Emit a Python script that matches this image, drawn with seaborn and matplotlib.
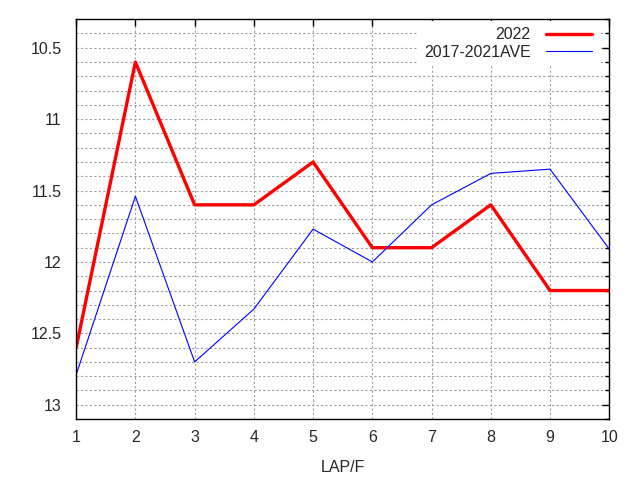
import numpy as np
import pandas as pd
import seaborn as sns
import matplotlib.pyplot as plt
from matplotlib.ticker import MultipleLocator

laps = [1, 2, 3, 4, 5, 6, 7, 8, 9, 10]
times_2022 = [12.6, 10.6, 11.6, 11.6, 11.3, 11.9, 11.9, 11.6, 12.2, 12.2]
times_ave = [12.79, 11.54, 12.70, 12.33, 11.77, 12.0, 11.6, 11.38, 11.35, 11.91]

sns.set_style('white')
plt.rcParams['font.family'] = ['Liberation Sans', 'DejaVu Sans']
plt.rcParams['font.size'] = 11.5

df = pd.DataFrame({'lap': laps, '2022': times_2022, '2017-2021AVE': times_ave})

fig = plt.figure(figsize=(6.4, 4.8), dpi=100)
ax = fig.add_axes([0.119, 0.127, 0.833, 0.833])

sns.lineplot(data=df, x='lap', y='2022', ax=ax, color='#ff0000', linewidth=2.4, label='2022')
sns.lineplot(data=df, x='lap', y='2017-2021AVE', ax=ax, color='#0000ff', linewidth=0.8, label='2017-2021AVE')

ax.set_xlim(1, 10)
ax.set_ylim(13.1, 10.3)
ax.set_xticks(laps)
ax.yaxis.set_major_locator(MultipleLocator(0.5))
ax.yaxis.set_minor_locator(MultipleLocator(0.1))
ax.set_yticklabels([f'{v:g}' for v in ax.get_yticks()])
ax.set_ylabel('')
ax.set_xlabel('LAP/F', labelpad=11)

ax.tick_params(which='both', direction='in', top=True, right=True, color='black')
ax.tick_params(which='major', length=5, width=1, pad=8)
ax.tick_params(axis='y', which='major', pad=10.5)
ax.tick_params(which='minor', length=3, width=1)
for s in ax.spines.values():
    s.set_color('black')
    s.set_linewidth(1)

ax.grid(True, which='major', axis='x', color='#a0a0a0', linestyle=(0, (2, 2)), linewidth=0.8)
ax.grid(True, which='both', axis='y', color='#a0a0a0', linestyle=(0, (2, 2)), linewidth=0.8)
ax.set_axisbelow(True)

leg = ax.legend(loc='upper right', bbox_to_anchor=(0.983, 1.0), markerfirst=False,
                frameon=True, fancybox=False, handlelength=2.9, borderaxespad=0.1,
                labelspacing=0.15, handletextpad=0.95, fontsize=11.5)
leg.get_frame().set_facecolor('white')
leg.get_frame().set_edgecolor('none')
leg.get_frame().set_alpha(1)
for t in leg.get_texts():
    t.set_ha('right')
leg._legend_box.align = 'right'

fig.savefig('out.png', dpi=100)
